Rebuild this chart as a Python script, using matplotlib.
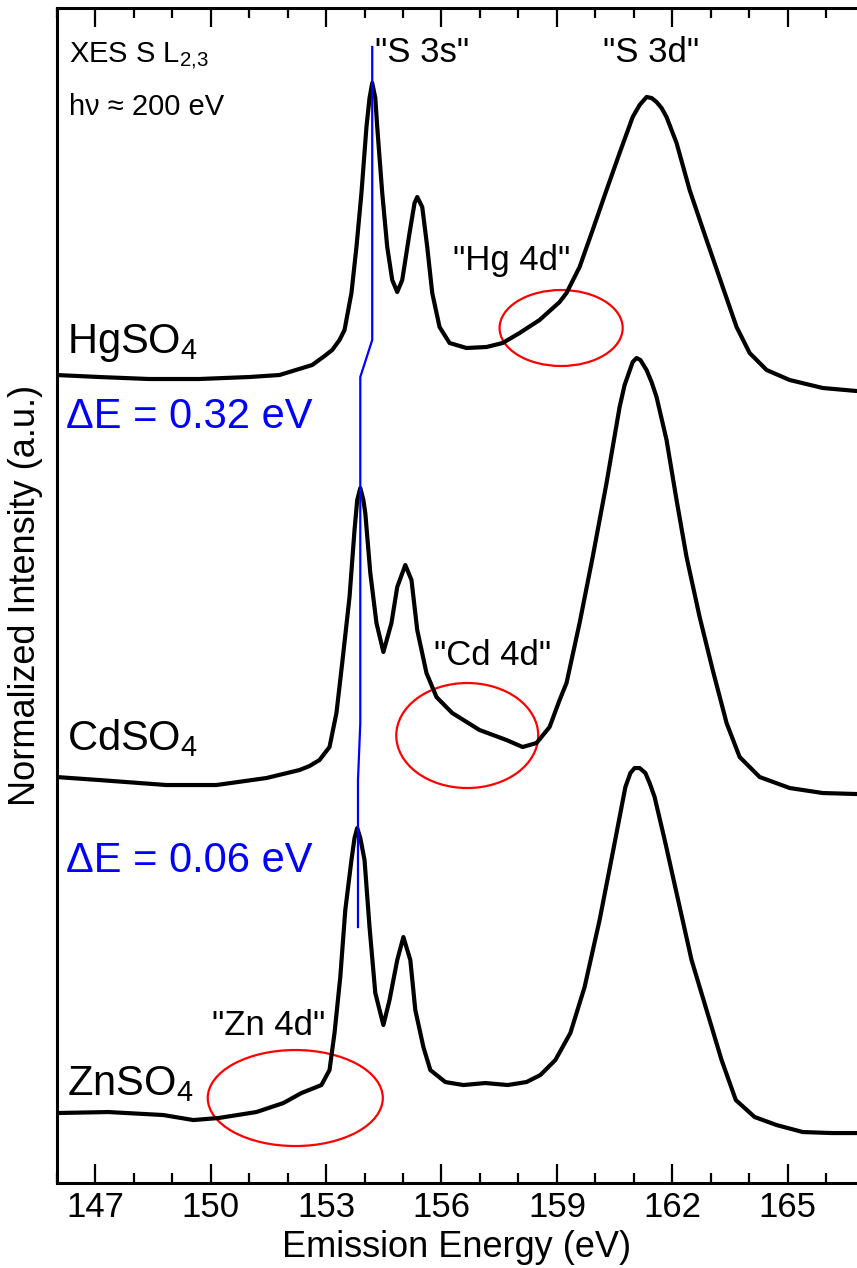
import matplotlib
matplotlib.use("Agg")
import matplotlib.pyplot as plt
from matplotlib.patches import Ellipse
from matplotlib.ticker import MultipleLocator

plt.rcParams['font.family'] = ['Liberation Sans', 'DejaVu Sans']
plt.rcParams['mathtext.fontset'] = 'custom'
plt.rcParams['mathtext.rm'] = 'Liberation Sans'
plt.rcParams['mathtext.it'] = 'Liberation Sans:italic'

# spectra, stacked (energy in eV, normalized intensity + offset)
hg_energy = [145.99, 147.10, 148.40, 149.70, 151.01, 151.79, 152.64, 152.96, 153.16, 153.35,
             153.48, 153.66, 153.79, 153.92, 154.05, 154.13, 154.20, 154.28, 154.33, 154.46,
             154.59, 154.72, 154.85, 154.98, 155.17, 155.30, 155.37, 155.50, 155.63, 155.76,
             155.95, 156.21, 156.65, 157.17, 157.59, 158.03, 158.55, 159.07, 159.25, 159.59,
             159.93, 160.29, 160.63, 160.97, 161.15, 161.33, 161.46, 161.59, 161.72, 161.85,
             162.11, 162.45, 162.89, 163.31, 163.67, 164.01, 164.45, 165.05, 165.91, 166.79]
hg_int = [8.08, 8.06, 8.04, 8.04, 8.06, 8.08, 8.18, 8.27, 8.33, 8.43,
          8.53, 8.90, 9.36, 9.90, 10.56, 10.85, 11.00, 10.85, 10.56, 9.90,
          9.36, 9.03, 8.91, 9.03, 9.50, 9.80, 9.86, 9.76, 9.36, 8.90,
          8.56, 8.40, 8.35, 8.36, 8.40, 8.50, 8.63, 8.81, 8.90, 9.16,
          9.53, 9.93, 10.30, 10.66, 10.78, 10.86, 10.85, 10.81, 10.75, 10.66,
          10.40, 9.93, 9.43, 8.96, 8.56, 8.30, 8.13, 8.03, 7.95, 7.92]

cd_energy = [145.99, 147.10, 148.85, 150.15, 151.45, 152.31, 152.57, 152.83, 153.09, 153.27,
             153.42, 153.61, 153.74, 153.81, 153.89, 153.97, 154.02, 154.15, 154.31, 154.49,
             154.70, 154.85, 155.06, 155.22, 155.37, 155.61, 155.87, 156.28, 156.99, 157.69,
             158.11, 158.47, 158.81, 159.07, 159.25, 159.59, 159.93, 160.29, 160.63, 160.76,
             160.97, 161.07, 161.17, 161.33, 161.46, 161.59, 161.85, 162.11, 162.37, 162.71,
             163.05, 163.41, 163.75, 164.27, 165.05, 165.91, 166.79]
cd_int = [4.06, 4.03, 3.98, 3.98, 4.05, 4.13, 4.17, 4.23, 4.36, 4.70,
          5.20, 5.86, 6.53, 6.83, 6.95, 6.83, 6.70, 6.10, 5.60, 5.31,
          5.60, 5.96, 6.18, 6.03, 5.53, 5.10, 4.86, 4.70, 4.53, 4.43,
          4.36, 4.40, 4.56, 4.83, 5.00, 5.60, 6.26, 7.00, 7.76, 7.98,
          8.21, 8.25, 8.23, 8.13, 8.01, 7.86, 7.43, 6.83, 6.26, 5.66,
          5.13, 4.60, 4.26, 4.06, 3.95, 3.90, 3.89]

zn_energy = [145.99, 147.34, 148.77, 149.55, 150.20, 151.19, 151.89, 152.36, 152.88, 153.09,
             153.22, 153.37, 153.50, 153.66, 153.74, 153.81, 153.89, 154.00, 154.13, 154.28,
             154.49, 154.65, 154.85, 155.01, 155.19, 155.32, 155.53, 155.71, 156.10, 156.57,
             157.14, 157.72, 158.21, 158.57, 158.96, 159.35, 159.72, 160.11, 160.50, 160.78,
             160.91, 161.02, 161.15, 161.30, 161.41, 161.54, 161.82, 162.11, 162.50, 162.89,
             163.28, 163.65, 164.14, 164.71, 165.39, 166.14, 166.79]
zn_int = [0.70, 0.71, 0.68, 0.63, 0.65, 0.71, 0.80, 0.90, 0.98, 1.13,
          1.50, 2.06, 2.73, 3.23, 3.45, 3.55, 3.45, 3.23, 2.56, 1.90,
          1.58, 1.83, 2.23, 2.46, 2.23, 1.73, 1.36, 1.13, 1.01, 0.98,
          1.00, 0.98, 1.01, 1.08, 1.23, 1.50, 1.96, 2.63, 3.40, 3.96,
          4.10, 4.15, 4.15, 4.10, 4.00, 3.86, 3.40, 2.90, 2.23, 1.73,
          1.23, 0.83, 0.66, 0.58, 0.51, 0.50, 0.50]

# blue guide through the "S 3s" maxima
shift_energy = [154.20, 154.20, 153.89, 153.89, 153.83, 153.83]
shift_y = [11.36, 8.43, 8.06, 4.60, 4.03, 2.56]

# red ellipses: (center E, center y, width eV, height)
ellipses = [(159.11, 8.55, 3.20, 0.76),
            (156.67, 4.475, 3.69, 1.05),
            (152.20, 0.85, 4.55, 0.96)]

fig = plt.figure(figsize=(8.57, 12.68), dpi=100)
ax = fig.add_axes([0.0662, 0.067, 0.9338, 0.9267])

for e, i in [(hg_energy, hg_int), (cd_energy, cd_int), (zn_energy, zn_int)]:
    ax.plot(e, i, color='black', lw=3, solid_joinstyle='round', solid_capstyle='round')
ax.plot(shift_energy, shift_y, color='#0000ff', lw=1.6)

for cx, cy, w, h in ellipses:
    ax.add_patch(Ellipse((cx, cy), w, h, fill=False, edgecolor='#ff0000', lw=1.6))

ax.set_xlim(146, 166.8)
ax.set_ylim(0, 11.75)

# labels
ax.text(146.32, 11.20, 'XES S L$_{2{,}3}$', fontsize=21)
ax.text(146.32, 10.68, 'h\u03bd \u2248 200 eV', fontsize=21)
ax.text(155.50, 11.21, '"S 3s"', fontsize=25, ha='center')
ax.text(161.46, 11.21, '"S 3d"', fontsize=25, ha='center')
ax.text(157.82, 9.13, '"Hg 4d"', fontsize=25, ha='center')
ax.text(157.33, 5.18, '"Cd 4d"', fontsize=25, ha='center')
ax.text(151.50, 1.48, '"Zn 4d"', fontsize=25, ha='center')
ax.text(146.27, 8.30, 'HgSO$_4$', fontsize=30)
ax.text(146.27, 4.33, 'CdSO$_4$', fontsize=30)
ax.text(146.27, 0.88, 'ZnSO$_4$', fontsize=30)
ax.text(146.25, 7.55, '\u0394E = 0.32 eV', fontsize=30, color='#0000ff')
ax.text(146.25, 3.11, '\u0394E = 0.06 eV', fontsize=30, color='#0000ff')

ax.set_xlabel('Emission Energy (eV)', fontsize=26, labelpad=4)
ax.set_ylabel('Normalized Intensity (a.u.)', fontsize=26, labelpad=10)

ax.set_xticks([147, 150, 153, 156, 159, 162, 165])
ax.xaxis.set_minor_locator(MultipleLocator(1))
ax.set_yticks([])
ax.tick_params(axis='x', which='both', direction='in', top=True, labelsize=25, pad=6, width=1.6)
ax.tick_params(axis='x', which='major', length=14)
ax.tick_params(axis='x', which='minor', length=7.5)

ax.spines['right'].set_visible(False)
for s in ['left', 'top', 'bottom']:
    ax.spines[s].set_linewidth(2.2)

fig.savefig('out.png', dpi=100)
